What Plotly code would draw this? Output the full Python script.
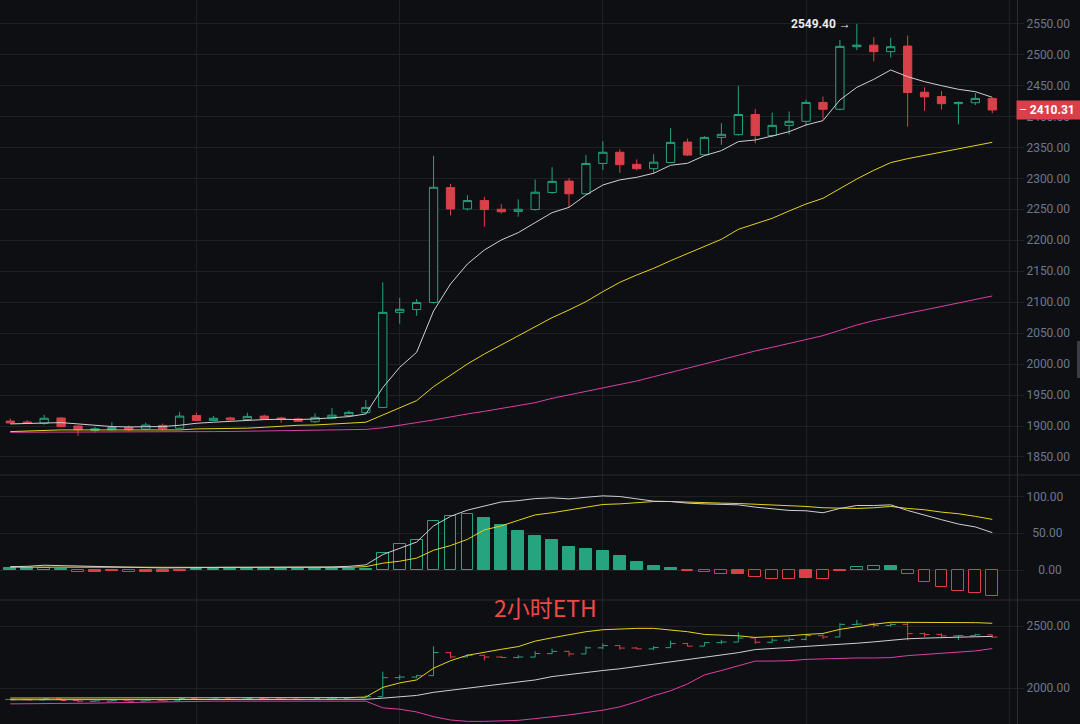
#!/usr/bin/env python3
"""
ETH 2h candlestick chart with MA lines, MACD pane and Bollinger pane,
dark exchange-style theme.
"""

import pandas as pd
import plotly.graph_objects as go
from plotly.subplots import make_subplots

# --- data (2h candles) ---
times = pd.date_range("2025-05-07 02:00", periods=59, freq="2h")

opens = [1908, 1906.5, 1904.5, 1913, 1900, 1893, 1894, 1897.5, 1895, 1901,
         1896.5, 1917, 1909, 1913, 1910.5, 1916, 1913, 1911.5, 1907, 1912.5,
         1917, 1921.5, 1930, 2083.5, 2088, 2099.5, 2285, 2250.5, 2264, 2250,
         2246.5, 2249.5, 2277, 2295.5, 2275, 2324, 2342, 2322.5, 2315.5, 2325.5,
         2358.5, 2338, 2366, 2370.5, 2403, 2369, 2385.5, 2392, 2422.5, 2411.5,
         2512.5, 2515, 2504.5, 2513.5, 2439, 2432, 2420.5, 2422, 2429]
highs = [1912, 1909.5, 1918, 1914, 1901, 1898.5, 1906, 1901, 1905.5, 1904,
         1922.5, 1921.5, 1916, 1915, 1921.5, 1918.5, 1915, 1913.5, 1920.5, 1929,
         1925, 1942, 2132, 2107, 2105, 2336.5, 2291, 2272.5, 2270, 2258.5,
         2266, 2298, 2318, 2300.5, 2337.5, 2360, 2347, 2330.5, 2339, 2381,
         2364, 2368, 2389, 2449, 2412, 2406, 2408, 2427, 2432, 2523.5,
         2549.4, 2528, 2527, 2530.5, 2447, 2441, 2424, 2437.5, 2430]
lows = [1904, 1903.5, 1902, 1898, 1884, 1889.5, 1893, 1892, 1894, 1893,
        1895, 1908, 1908, 1909, 1909, 1910, 1905, 1906.5, 1905, 1911,
        1916, 1920, 1929, 2065, 2078, 2098, 2240, 2248, 2222, 2243,
        2238, 2248, 2275, 2253.5, 2274, 2313.5, 2309, 2312.5, 2307, 2325,
        2336, 2337, 2354, 2369, 2356.5, 2366, 2370.5, 2385, 2395, 2410,
        2507, 2489, 2495, 2383.5, 2409, 2411, 2387, 2418.4, 2405]
closes = [1905, 1904, 1912.5, 1899, 1894, 1895.5, 1897.5, 1894, 1901.5, 1895.5,
          1916, 1909, 1912.5, 1910, 1915.5, 1911.5, 1911, 1907.5, 1914, 1917.5,
          1922, 1930, 2083.5, 2088.5, 2099.5, 2285.5, 2250.5, 2264, 2249.5, 2246,
          2250, 2277.5, 2295, 2275, 2324, 2342, 2322, 2315.5, 2326, 2358,
          2337.5, 2366, 2371, 2403, 2369, 2385.5, 2392, 2422.5, 2411.5, 2513,
          2515, 2504.5, 2512.5, 2438.5, 2431.5, 2420.5, 2422.5, 2429, 2410.31]

# moving averages on the price pane
ma_fast = [1903.4, 1903.9, 1905.5, 1905.5, 1903.4, 1901.2, 1899.1, 1898.5, 1898.5, 1899.1,
           1901.2, 1904.4, 1906.1, 1907.7, 1909.3, 1910.4, 1910.9, 1910.4, 1911.4, 1913.6,
           1915.2, 1919.5, 1962.0, 1994.8, 2019.0, 2085.7, 2129.3, 2161.6, 2184.2, 2200.4,
           2212.2, 2228.4, 2244.5, 2253.1, 2273.0, 2289.2, 2297.4, 2301.6, 2308.1, 2321.0,
           2324.3, 2336.6, 2344.7, 2359.2, 2361.9, 2368.3, 2375.3, 2386.1, 2393.1, 2426.5,
           2446.9, 2459.8, 2474.9, 2464.1, 2456.0, 2449.6, 2443.7, 2439.9, 2430.8]
ma_mid = [1891.0, 1892.0, 1893.1, 1893.7, 1893.7, 1893.7, 1893.7, 1893.7, 1893.7, 1893.7,
          1893.7, 1895.3, 1895.5, 1896.0, 1896.5, 1898.0, 1900.0, 1901.2, 1901.7, 1902.8,
          1904.4, 1906.1, 1917.8, 1929.1, 1941.0, 1963.6, 1982.4, 2000.2, 2016.3, 2030.9,
          2045.4, 2060.5, 2075.0, 2087.4, 2100.8, 2117.0, 2132.0, 2143.9, 2154.6, 2167.0,
          2178.9, 2189.6, 2201.5, 2217.6, 2226.2, 2235.4, 2247.2, 2258.5, 2267.7, 2283.8,
          2298.9, 2312.9, 2325.3, 2331.7, 2337.1, 2342.5, 2347.9, 2352.7, 2358.1]
ma_slow = [1889.9, 1889.9, 1889.9, 1889.9, 1889.9, 1889.9, 1889.9, 1889.9, 1889.9, 1889.9,
           1889.9, 1890.5, 1891.0, 1891.2, 1891.5, 1891.8, 1892.2, 1892.5, 1892.8, 1893.0,
           1893.5, 1894.5, 1897.0, 1901.7, 1905.5, 1909.8, 1915.1, 1919.5, 1923.7, 1928.6,
           1932.4, 1937.7, 1944.7, 1950.1, 1955.5, 1960.9, 1966.3, 1972.7, 1979.7, 1986.2,
           1993.2, 2000.2, 2007.2, 2014.7, 2021.2, 2027.1, 2033.5, 2040.5, 2045.9, 2054.5,
           2063.1, 2070.2, 2076.6, 2082.0, 2087.4, 2092.8, 2098.1, 2103.5, 2110.0]

# MACD pane
macd_hist = [2.8, 2.7, 3.0, 1.8, -2.2, -2.2, -2.0, -2.8, -2.2, -2.2,
             -1.8, 2.0, 2.0, 2.0, 2.0, 2.0, 2.0, 2.0, 2.0, 2.0,
             2.0, 2.0, 22.7, 35.2, 40.7, 67.1, 74.1, 76.9, 71.3, 61.6,
             53.2, 46.3, 40.5, 31.5, 28.4, 26.1, 18.9, 10.8, 5.4, 2.7,
             -2.0, -3.2, -5.9, -5.0, -9.0, -11.7, -12.6, -10.4, -11.7, -1.5,
             4.2, 5.2, 4.9, -5.9, -15.8, -23.4, -28.8, -30.6, -34.7]
macd_dif = [4.6, 5.0, 6.5, 6.0, 5.0, 4.0, 3.5, 3.0, 2.8, 2.8,
            3.0, 3.5, 3.7, 3.7, 3.7, 3.7, 3.7, 3.7, 3.7, 4.2,
            5.0, 7.0, 21.0, 29.0, 38.0, 60.0, 73.0, 81.5, 87.0, 92.6,
            94.4, 97.2, 98.2, 96.8, 99.0, 100.9, 100.0, 96.8, 93.7, 93.2,
            91.0, 90.0, 89.2, 88.7, 85.6, 82.9, 81.1, 80.6, 77.9, 83.8,
            87.8, 87.8, 88.7, 81.0, 74.3, 68.5, 62.6, 58.6, 50.9]
macd_dea = [3.9, 4.0, 4.1, 4.2, 4.2, 4.1, 4.0, 3.9, 3.8, 3.7,
            3.6, 3.6, 3.6, 3.6, 3.6, 3.6, 3.6, 3.6, 3.6, 3.6,
            3.7, 4.6, 9.3, 12.0, 16.2, 26.9, 33.3, 41.7, 54.6, 60.0,
            67.6, 75.0, 77.9, 82.0, 85.1, 89.2, 90.0, 91.4, 93.2, 93.2,
            92.8, 91.4, 91.0, 90.5, 89.6, 88.3, 87.4, 86.5, 84.7, 84.2,
            83.8, 84.7, 86.5, 83.8, 82.0, 78.8, 76.6, 73.0, 68.9]

# Bollinger pane
boll_up = [1919, 1919, 1919, 1919, 1919, 1919, 1919, 1919, 1919, 1919,
           1919, 1919, 1919, 1919, 1919, 1919, 1919, 1919, 1920, 1921,
           1923, 1927, 2005, 2041, 2065, 2160, 2220, 2264, 2291, 2312,
           2334, 2378, 2405, 2432, 2454, 2470, 2476, 2481, 2481, 2470,
           2454, 2432, 2429, 2421, 2408, 2413, 2421, 2432, 2440, 2473,
           2495, 2514, 2530, 2530, 2530, 2530, 2530, 2527, 2522]
boll_mid = [1905, 1905, 1905, 1905, 1905, 1905, 1905, 1905, 1905, 1905,
            1905, 1907, 1907, 1907, 1907, 1907, 1907, 1907, 1907, 1907,
            1907, 1909, 1918, 1929, 1940, 1965, 1981, 1997, 2013, 2030,
            2046, 2065, 2092, 2109, 2128, 2141, 2155, 2174, 2188, 2209,
            2228, 2247, 2269, 2285, 2310, 2318, 2326, 2332, 2340, 2348,
            2361, 2372, 2386, 2397, 2402, 2408, 2410, 2413, 2416]
boll_low = [1872, 1872, 1872, 1872, 1875, 1878, 1881, 1884, 1887, 1890,
            1892, 1894, 1894, 1894, 1894, 1894, 1894, 1894, 1894, 1894,
            1894, 1894, 1840, 1829, 1807, 1769, 1742, 1731, 1731, 1734,
            1739, 1753, 1766, 1783, 1802, 1821, 1848, 1889, 1938, 1978,
            2033, 2106, 2141, 2177, 2217, 2217, 2220, 2231, 2236, 2242,
            2242, 2242, 2245, 2261, 2269, 2277, 2288, 2299, 2318]

title_text = "2小时ETH"

# --- styling ---
BG = "#0e0f12"
GRID = "#1e2024"
SEP = "#2a2c31"
AXIS_TXT = "#6c7690"
GREEN = "#25a47f"
RED = "#d8414a"
WHITE_MA = "#cfcfcf"
YELLOW = "#e6d21e"
MAGENTA = "#d93fa6"

W, H = 1080, 724
PLOT_R = 1017          # right edge of the plot area in px
Y_MAIN, Y_MACD = 475, 600  # pane separators in px from top

step = pd.Timedelta(hours=2)
x_range = [times[0] - step * 0.608, times[0] + step * 59.46]

fig = make_subplots(
    rows=3, cols=1,
    shared_xaxes=True,
    vertical_spacing=0,
    row_heights=[Y_MAIN, Y_MACD - Y_MAIN, H - Y_MACD],
)

# 1. price pane
fig.add_trace(
    go.Candlestick(
        x=times, open=opens, high=highs, low=lows, close=closes,
        increasing=dict(line=dict(color=GREEN, width=1), fillcolor=BG),
        decreasing=dict(line=dict(color=RED, width=1), fillcolor=RED),
        whiskerwidth=0, showlegend=False, name="ETH",
    ),
    row=1, col=1,
)
for vals, col in [(ma_slow, MAGENTA), (ma_mid, YELLOW), (ma_fast, WHITE_MA)]:
    fig.add_trace(
        go.Scatter(x=times, y=vals, mode="lines", line=dict(color=col, width=1),
                   showlegend=False, hoverinfo="skip"),
        row=1, col=1,
    )

# 2. MACD pane - hollow bars when the histogram grows away from zero
fills, edges = [], []
prev = None
for v in macd_hist:
    col = GREEN if v >= 0 else RED
    growing = prev is not None and ((v >= 0 and v > prev) or (v < 0 and v < prev))
    fills.append(BG if growing else col)
    edges.append(col)
    prev = v
fig.add_trace(
    go.Bar(x=times, y=macd_hist, width=0.7 * 7200000,
           marker=dict(color=fills, line=dict(color=edges, width=1)),
           showlegend=False, hoverinfo="skip"),
    row=2, col=1,
)
for vals, col in [(macd_dea, YELLOW), (macd_dif, WHITE_MA)]:
    fig.add_trace(
        go.Scatter(x=times, y=vals, mode="lines", line=dict(color=col, width=1),
                   showlegend=False, hoverinfo="skip"),
        row=2, col=1,
    )

# 3. Bollinger pane with OHLC bars
for vals, col in [(boll_low, MAGENTA), (boll_mid, WHITE_MA), (boll_up, YELLOW)]:
    fig.add_trace(
        go.Scatter(x=times, y=vals, mode="lines", line=dict(color=col, width=1),
                   showlegend=False, hoverinfo="skip"),
        row=3, col=1,
    )
fig.add_trace(
    go.Ohlc(x=times, open=opens, high=highs, low=lows, close=closes,
            increasing=dict(line=dict(color=GREEN, width=1)),
            decreasing=dict(line=dict(color=RED, width=1)),
            tickwidth=0.3, showlegend=False),
    row=3, col=1,
)

fig.update_layout(
    width=W, height=H,
    margin=dict(l=0, r=W - PLOT_R, t=0, b=0),
    paper_bgcolor=BG, plot_bgcolor=BG,
    showlegend=False,
    bargap=0,
    font=dict(family="Roboto, sans-serif", size=12, color=AXIS_TXT),
)

fig.update_xaxes(
    range=x_range,
    showgrid=True, gridcolor=GRID, gridwidth=1,
    tick0=times[11], dtick=86400000,
    showticklabels=False, ticks="", zeroline=False, showline=False,
    rangeslider_visible=False,
)

axis_style = dict(
    side="right", showgrid=True, gridcolor=GRID, gridwidth=1,
    ticks="outside", ticklen=6, tickcolor=GRID,
    showline=True, linecolor=SEP, linewidth=1, zeroline=False,
    tickfont=dict(family="Roboto, sans-serif", size=12, color=AXIS_TXT),
)
fig.update_yaxes(range=[1820.9, 2587.9], tick0=0, dtick=50, tickformat=".2f",
                 row=1, col=1, **axis_style)
fig.update_yaxes(range=[-40.8, 129.3], tickvals=[0, 50, 100],
                 ticktext=["\u00a0\u00a0\u00a0\u00a00.00", "\u00a0\u00a050.00", "100.00"],
                 row=2, col=1, **axis_style)
fig.update_yaxes(range=[1709.7, 2709.7], tickvals=[2000, 2500],
                 ticktext=["2000.00", "2500.00"], row=3, col=1, **axis_style)

# pane separators and the scroll handle on the far right
px_x = 1.0 / PLOT_R
for y_px in (Y_MAIN, Y_MACD):
    fig.add_shape(type="line", xref="paper", yref="paper",
                  x0=0, x1=W * px_x, y0=1 - y_px / H, y1=1 - y_px / H,
                  line=dict(color=SEP, width=1))
fig.add_shape(type="rect", xref="paper", yref="paper",
              x0=1077 * px_x, x1=1080 * px_x, y0=1 - 378 / H, y1=1 - 341 / H,
              fillcolor="#3a3d43", line=dict(width=0))

# peak marker
fig.add_annotation(
    x=times[highs.index(max(highs))], y=max(highs), xref="x", yref="y",
    text=f"<b>{max(highs):.2f}</b> →", showarrow=False,
    xanchor="right", yanchor="middle", xshift=-4,
    font=dict(family="Roboto, sans-serif", size=12, color="#ececec"),
)
# last price tag on the price axis
fig.add_annotation(
    x=1, y=closes[-1], xref="paper", yref="y",
    text=f"– <b>{closes[-1]:.2f}</b>", showarrow=False,
    xanchor="left", yanchor="middle", xshift=-1,
    width=60, align="left", bgcolor=RED, borderpad=2,
    font=dict(family="Roboto, sans-serif", size=12, color="#ffffff"),
)
# watermark-like title
fig.add_annotation(
    x=545 * px_x, y=1 - 607 / H, xref="paper", yref="paper",
    text=title_text, showarrow=False, xanchor="center", yanchor="middle",
    font=dict(family="Noto Sans CJK SC", size=23, color="#f24848"),
)

# drop the default page margin so the figure sits at the window origin
fig.write_html(
    "out.html",
    config=dict(displayModeBar=False),
    post_script="document.body.style.margin='0';document.body.style.overflow='hidden';",
)
